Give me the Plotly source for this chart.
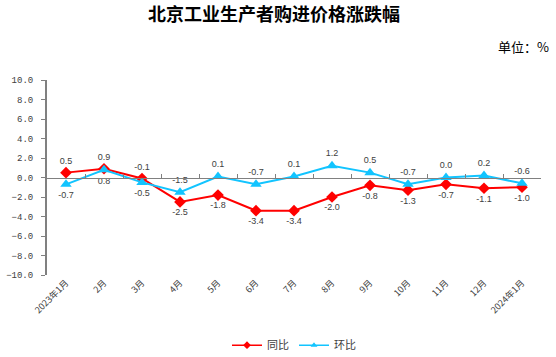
import plotly.graph_objects as go

months = ["2023年1月", "2月", "3月", "4月", "5月", "6月", "7月", "8月", "9月",
          "10月", "11月", "12月", "2024年1月"]
yoy = [0.5, 0.9, -0.1, -2.5, -1.8, -3.4, -3.4, -2.0, -0.8, -1.3, -0.7, -1.1, -1.0]
mom = [-0.7, 0.8, -0.5, -1.5, 0.1, -0.7, 0.1, 1.2, 0.5, -0.7, 0.0, 0.2, -0.6]
yticks = [-10, -8, -6, -4, -2, 0, 2, 4, 6, 8, 10]

yoy_pos = ["top center"] * 3 + ["bottom center"] * 10
mom_pos = ["bottom center"] * 3 + ["top center"] * 10

RED = "#FF0000"
CYAN = "#12C4FF"
GRAY = "#808080"
TXT = "#404040"
lab_font = dict(family="Liberation Sans, DejaVu Sans", size=9, color=TXT)

fig = go.Figure()
fig.add_trace(go.Scatter(
    x=months, y=yoy, name="同比", mode="lines+markers+text", showlegend=False,
    line=dict(color=RED, width=2),
    marker=dict(symbol="diamond", size=9, color=RED),
    text=[f"{v:.1f}" for v in yoy], textposition=yoy_pos, textfont=lab_font,
    cliponaxis=False,
))
fig.add_trace(go.Scatter(
    x=months, y=mom, name="环比", mode="lines+markers+text", showlegend=False,
    line=dict(color=CYAN, width=2),
    marker=dict(symbol="triangle-up", size=10, color=CYAN),
    text=[f"{v:.1f}" for v in mom], textposition=mom_pos, textfont=lab_font,
    cliponaxis=False,
))
# legend-only entries with smaller symbols
fig.add_trace(go.Scatter(x=[months[0]], y=[None], name="同比", mode="lines+markers",
                         line=dict(color=RED, width=1.5),
                         marker=dict(symbol="diamond", size=6, color=RED),
                         hoverinfo="skip"))
fig.add_trace(go.Scatter(x=[months[0]], y=[None], name="环比", mode="lines+markers",
                         line=dict(color=CYAN, width=1.5),
                         marker=dict(symbol="triangle-up", size=6, color=CYAN),
                         hoverinfo="skip"))
# invisible helper trace for the zero-line axis
fig.add_trace(go.Scatter(x=months, y=[None] * len(months), xaxis="x2",
                         showlegend=False, hoverinfo="skip", mode="lines"))

fig.update_layout(
    template="none",
    width=556, height=357,
    margin=dict(l=47, r=15, t=80, b=82, autoexpand=False),
    paper_bgcolor="white", plot_bgcolor="white",
    title=dict(text="<b>北京工业生产者购进价格涨跌幅</b>", x=0.493, xanchor="center",
               y=0.958, yanchor="middle",
               font=dict(family="Noto Sans CJK SC", size=18, color="#000000")),
    showlegend=True,
    legend=dict(orientation="h", x=0.5, xanchor="center", y=-0.36, yanchor="middle",
                font=dict(family="Noto Sans CJK SC", size=11, color=TXT),
                itemwidth=30, bgcolor="rgba(0,0,0,0)"),
    xaxis=dict(type="category", categoryarray=months, range=[-0.5, 12.5],
               automargin=False,
               showline=False, showgrid=False, zeroline=False, ticks="",
               tickangle=-45,
               tickfont=dict(family="Noto Sans CJK SC", size=9, color=TXT)),
    xaxis2=dict(type="category", categoryarray=months, range=[-0.5, 12.5],
                overlaying="x", anchor="free", position=0.5, automargin=False,
                showline=True, linecolor=GRAY, linewidth=1,
                ticks="inside", tickson="boundaries", ticklen=4, tickcolor=GRAY,
                showticklabels=False, showgrid=False, zeroline=False),
    yaxis=dict(range=[-10, 10], tickvals=yticks, tickformat=".1f",
               automargin=False,
               showline=True, linecolor=GRAY, linewidth=2,
               ticks="outside", ticklen=4, tickcolor=GRAY, ticklabelstandoff=6,
               showgrid=False, zeroline=False,
               tickfont=dict(family="Liberation Mono", size=9, color=TXT)),
    annotations=[dict(text="单位：%", xref="paper", yref="paper", x=1.02, y=1.174,
                      xanchor="right", yanchor="middle", showarrow=False,
                      font=dict(family="Noto Sans CJK SC", size=13, color="#000000"))],
)

fig.write_html("out.html", config={"displayModeBar": False},
               post_script="document.body.style.margin='0';document.body.style.overflow='hidden';")
